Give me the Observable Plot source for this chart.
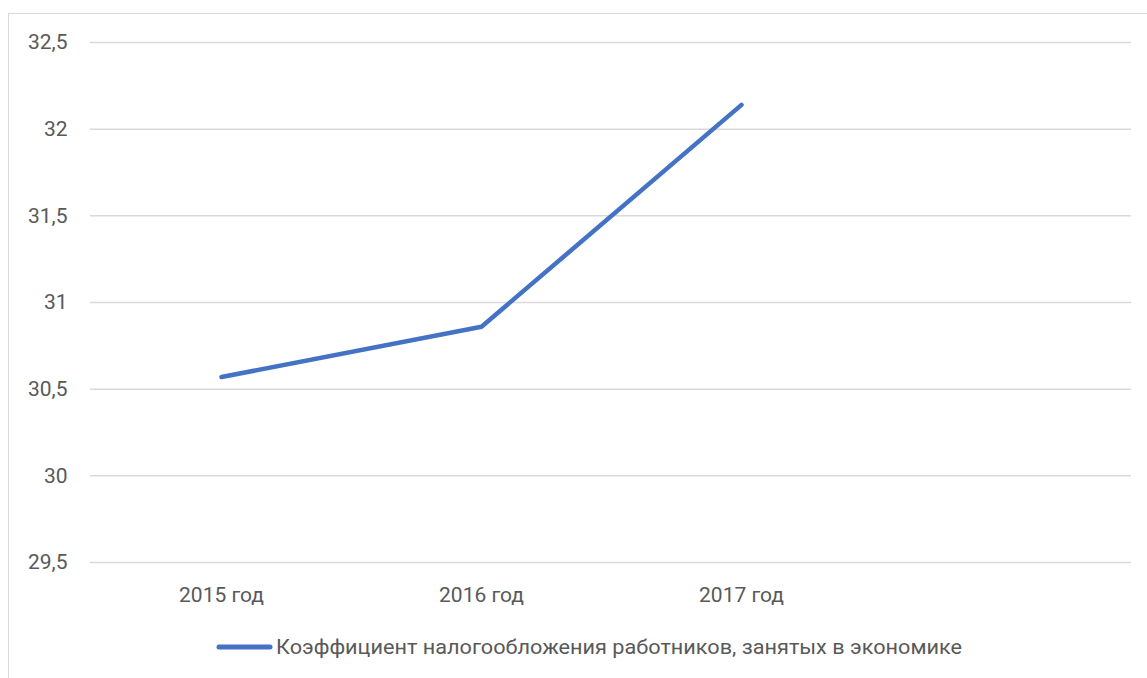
<!DOCTYPE html>
<html>
<head>
<meta charset="utf-8">
<script src="https://cdn.jsdelivr.net/npm/d3@7"></script>
<script src="https://cdn.jsdelivr.net/npm/@observablehq/plot@0.6"></script>
<style>
  html, body { margin: 0; padding: 0; background: #fff; }
  #wrap { position: relative; width: 1147px; height: 678px; overflow: hidden; font-family: Roboto, "Open Sans", sans-serif; }
  #frame { position: absolute; left: 8px; top: 13px; width: 1300px; height: 800px; border-left: 1px solid #d9d9d9; border-top: 1px solid #d9d9d9; }
  #chart { position: absolute; left: 0; top: 0; }
  #legend { position: absolute; left: 0; top: 628px; }
</style>
</head>
<body>
<div id="wrap">
  <div id="frame"></div>
  <div id="chart"></div>
  <svg id="legend" width="1147" height="44"></svg>
</div>
<script>
const categories = ["2015 год", "2016 год", "2017 год", " "];
const years = ["2015 год", "2016 год", "2017 год"];
const values = [30.57, 30.86, 32.14];
const yTicks = [29.5, 30, 30.5, 31, 31.5, 32, 32.5];
const seriesName = "Коэффициент налогообложения работников, занятых в экономике";
const lineColor = "#4472C4";

const data = years.map((y, i) => ({year: y, value: values[i]}));

const chart = Plot.plot({
  width: 1147,
  height: 620,
  marginLeft: 90,
  marginRight: 16,
  marginTop: 42,
  marginBottom: 58,
  style: {fontFamily: "Roboto, 'Open Sans', sans-serif", fontSize: "20px", color: "#595959", background: "transparent"},
  x: {type: "point", domain: categories, padding: 0.5, label: null},
  y: {domain: [29.5, 32.5], ticks: yTicks, label: null},
  marks: [
    Plot.gridY(yTicks, {stroke: "#d9d9d9", strokeOpacity: 1, strokeWidth: 1.5}),
    Plot.axisY(yTicks, {tickSize: 0, tickPadding: 23, tickFormat: d => String(d).replace(".", ","), fill: "#595959", fontSize: 21}),
    Plot.axisX({tickSize: 0, tickPadding: 25, fill: "#595959", fontSize: 21}),
    Plot.line(data, {x: "year", y: "value", stroke: lineColor, strokeWidth: 4.5, strokeLinecap: "round", strokeLinejoin: "round"})
  ]
});
document.getElementById("chart").appendChild(chart);

const lg = d3.select("#legend");
lg.append("line").attr("x1", 219).attr("x2", 270).attr("y1", 19).attr("y2", 19)
  .attr("stroke", lineColor).attr("stroke-width", 5).attr("stroke-linecap", "round");
lg.append("text").attr("x", 276).attr("y", 26).text(seriesName)
  .attr("fill", "#595959").attr("font-size", 20)
  .attr("font-family", "Roboto, 'Open Sans', sans-serif")
  .attr("textLength", 686).attr("lengthAdjust", "spacingAndGlyphs");
</script>
</body>
</html>
